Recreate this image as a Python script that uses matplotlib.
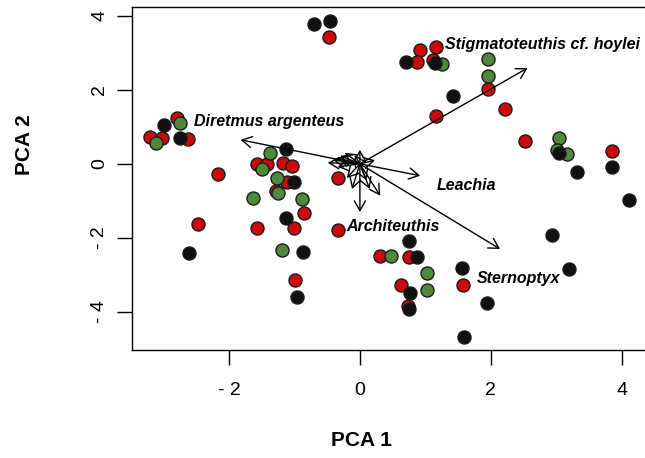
import matplotlib
matplotlib.use("Agg")
import matplotlib.pyplot as plt

# scores (PCA 1, PCA 2)
red_x = [-3.21, -3.02, -2.79, -2.63, -2.17, -2.47, -0.47, -1.57, -1.42, -1.18, -1.04,
         -1.11, -1.28, -0.85, -1.57, -1.01, -0.99, -0.34, -0.34, 0.31, 0.75, 0.63,
         0.73, 1.57, 0.92, 1.16, 0.87, 1.11, 1.95, 2.21, 1.16, 2.52, 3.85]
red_y = [0.73, 0.70, 1.24, 0.68, -0.27, -1.62, 3.43, 0.00, 0.00, 0.03, -0.05,
         -0.49, -0.73, -1.32, -1.73, -1.73, -3.14, -0.38, -1.78, -2.49, -2.51, -3.27,
         -3.84, -3.27, 3.08, 3.16, 2.76, 2.81, 2.03, 1.49, 1.30, 0.62, 0.35]
green_x = [-3.11, -2.75, -1.37, -1.50, -1.27, -1.25, -1.63, -0.89, -1.19, 0.47,
           1.02, 1.02, 1.25, 1.95, 1.95, 3.04, 3.01, 3.16]
green_y = [0.57, 1.11, 0.30, -0.14, -0.38, -0.78, -0.92, -0.95, -2.32, -2.49,
           -2.95, -3.41, 2.70, 2.84, 2.38, 0.70, 0.38, 0.27]
black_x = [-2.99, -2.75, -2.61, -0.70, -0.46, -1.13, -1.01, -1.13, -0.87, -0.96,
           0.75, 0.87, 0.76, 0.75, 1.56, 1.94, 1.59, 2.93, 3.19, 4.11, 3.31, 3.85,
           3.04, 0.70, 1.15, 1.42]
black_y = [1.05, 0.70, -2.41, 3.78, 3.86, 0.41, -0.49, -1.46, -2.38, -3.59,
           -2.08, -2.51, -3.49, -3.92, -2.81, -3.76, -4.68, -1.92, -2.84, -0.97, -0.22, -0.08,
           0.30, 2.76, 2.73, 1.84]

# loadings (arrows from the origin)
named_x = [2.56, -1.82, 0.92, 2.14, 0.00]
named_y = [2.59, 0.65, -0.32, -2.30, -1.30]
names = ["Stigmatoteuthis cf. hoylei", "Diretmus argenteus", "Leachia",
         "Sternoptyx", "Architeuthis"]
name_x = [1.30, -2.53, 1.18, 1.79, -0.20]
name_y = [3.22, 1.14, -0.59, -3.11, -1.70]
small_x = [-0.49, -0.41, -0.34, -0.34, 0.00, -0.23, 0.31, 0.15, -0.12, -0.20, -0.08, 0.23,
           -0.30, 0.10]
small_y = [0.03, 0.11, 0.16, -0.08, 0.38, 0.30, -0.86, -0.68, -0.68, -0.38, 0.24, 0.10,
           0.22, -0.45]

xticks = [-2, 0, 2, 4]
xlabels = ["- 2", "0", "2", "4"]
yticks = [-4, -2, 0, 2, 4]
ylabels = ["- 4", "- 2", "0", "2", "4"]

fig = plt.figure(figsize=(6.45, 4.58), dpi=100)
W, H = 645, 458
ax = fig.add_axes([132 / W, (H - 350) / H, (650 - 132) / W, (350 - 7) / H])

ms = 88
ax.scatter(red_x, red_y, s=ms, c="#cc0a0a", edgecolors="#1a1a1a", linewidths=1.0, zorder=2)
ax.scatter(green_x, green_y, s=ms, c="#4e8a3a", edgecolors="#1a1a1a", linewidths=1.0, zorder=2)
ax.scatter(black_x, black_y, s=ms, c="#111111", edgecolors="#1a1a1a", linewidths=1.0, zorder=2)

arrow = dict(arrowstyle="->,head_length=0.7,head_width=0.4", color="black",
             lw=1.0, shrinkA=0, shrinkB=0)
for x, y in zip(small_x + named_x, small_y + named_y):
    ax.annotate("", xy=(x, y), xytext=(0, 0), arrowprops=arrow, zorder=3)

for t, x, y in zip(names, name_x, name_y):
    ax.text(x, y, t, fontsize=11.5, fontweight="bold", fontstyle="italic",
            family=["Liberation Sans", "DejaVu Sans"], ha="left", va="center", zorder=4)

ax.set_xlim(-3.48, 4.43)
ax.set_ylim(-5.03, 4.24)
ax.set_xticks(xticks, labels=xlabels)
ax.set_yticks(yticks, labels=ylabels)
ax.tick_params(length=11, width=1.0, labelsize=14)
ax.tick_params(axis="x", pad=12)
ax.tick_params(axis="y", pad=6)
for lab in ax.get_xticklabels() + ax.get_yticklabels():
    lab.set_family(["Liberation Sans Narrow", "Liberation Sans", "DejaVu Sans"])
for lab in ax.get_yticklabels():
    lab.set_rotation(90)
    lab.set_va("center")
for sp in ax.spines.values():
    sp.set_linewidth(1.0)

fig.text(361 / W, 1 - 440 / H, "PCA 1", fontsize=15, fontweight="bold",
         family=["Liberation Sans", "DejaVu Sans"], ha="center", va="center")
fig.text(25 / W, 1 - 145 / H, "PCA 2", fontsize=15, fontweight="bold", rotation=90,
         family=["Liberation Sans", "DejaVu Sans"], ha="center", va="center")

fig.savefig("out.png", dpi=100)
